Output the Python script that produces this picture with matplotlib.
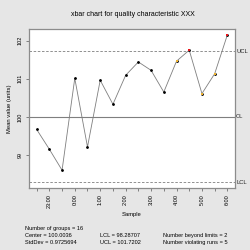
import matplotlib
matplotlib.use("Agg")
import matplotlib.pyplot as plt
import numpy as np

tick_labels = ["23:00", "0:00", "1:00", "2:00", "3:00", "4:00", "5:00", "6:00"]
values = [99.67, 99.15, 98.60, 101.01, 99.21, 100.96, 100.33, 101.09,
          101.44, 101.22, 100.65, 101.46, 101.75, 100.61, 101.13, 102.15]
center = 100.0036
lcl = 98.28707
ucl = 101.7202
violating = [12, 14, 15]
beyond = [13, 16]

plt.rcParams['font.family'] = ['Liberation Sans', 'DejaVu Sans']
fig = plt.figure(figsize=(2.5, 2.5), dpi=100)
fig.patch.set_facecolor('#e6e6e6')
ax = fig.add_axes([0.116, 0.248, 0.824, 0.636])
ax.set_facecolor('white')

x = np.arange(1, len(values) + 1)
ax.plot(x, values, color='#7f7f7f', lw=0.6, zorder=2)
ax.plot(x, values, ls='none', marker='o', ms=1.0, color='black', zorder=3)
for i in violating:
    ax.plot(i, values[i - 1], ls='none', marker='s', ms=1.8, mew=0, color='#eeb22e', zorder=4)
for i in beyond:
    ax.plot(i, values[i - 1], ls='none', marker='s', ms=1.8, mew=0, color='#e8141a', zorder=4)

ax.axhline(center, color='#7f7f7f', lw=0.8, zorder=1)
ax.axhline(ucl, color='#7f7f7f', lw=0.6, ls=(0, (3, 2)), zorder=1)
ax.axhline(lcl, color='#7f7f7f', lw=0.6, ls=(0, (3, 2)), zorder=1)

lo = min(min(values), lcl)
hi = max(max(values), ucl)
pad = (hi - lo) * 0.04
ax.set_ylim(lo - pad, hi + pad)
xpad = (len(values) - 1) * 0.04
ax.set_xlim(1 - xpad, len(values) + xpad)

for yv, lab in [(ucl, "UCL"), (center, "CL"), (lcl, "LCL")]:
    ax.text(1.005, yv, lab, transform=ax.get_yaxis_transform(), fontsize=4.2,
            va='center', ha='left', color='#222222')

ax.set_xticks(x, minor=True)
ax.set_xticks(x[1::2])
ax.set_xticklabels(tick_labels, rotation=90, fontsize=4)
ax.set_yticks([99, 100, 101, 102])
ax.set_yticklabels(["99", "100", "101", "102"], rotation=90, va='center', fontsize=4)
ax.tick_params(axis='both', which='both', length=2.5, width=0.5, color='#555555', pad=2)
for s in ax.spines.values():
    s.set_color('#8c8c8c')
    s.set_linewidth(0.9)

ax.set_xlabel("Sample", fontsize=4.2, labelpad=3)
ax.set_ylabel("Mean value (units)", fontsize=4.2, labelpad=4)
fig.text(0.533, 0.94, "xbar chart for quality characteristic XXX", ha='center',
         va='center', fontsize=5)

fs = 4.1
fig.text(0.1, 0.086, "Number of groups = 16", fontsize=fs, va='center')
fig.text(0.1, 0.058, "Center = 100.0036", fontsize=fs, va='center')
fig.text(0.1, 0.030, "StdDev = 0.9725694", fontsize=fs, va='center')
fig.text(0.4, 0.058, "LCL = 98.28707", fontsize=fs, va='center')
fig.text(0.4, 0.030, "UCL = 101.7202", fontsize=fs, va='center')
fig.text(0.652, 0.058, "Number beyond limits = 2", fontsize=fs, va='center')
fig.text(0.652, 0.030, "Number violating runs = 5", fontsize=fs, va='center')

fig.savefig("out.png", dpi=100, facecolor=fig.get_facecolor())
